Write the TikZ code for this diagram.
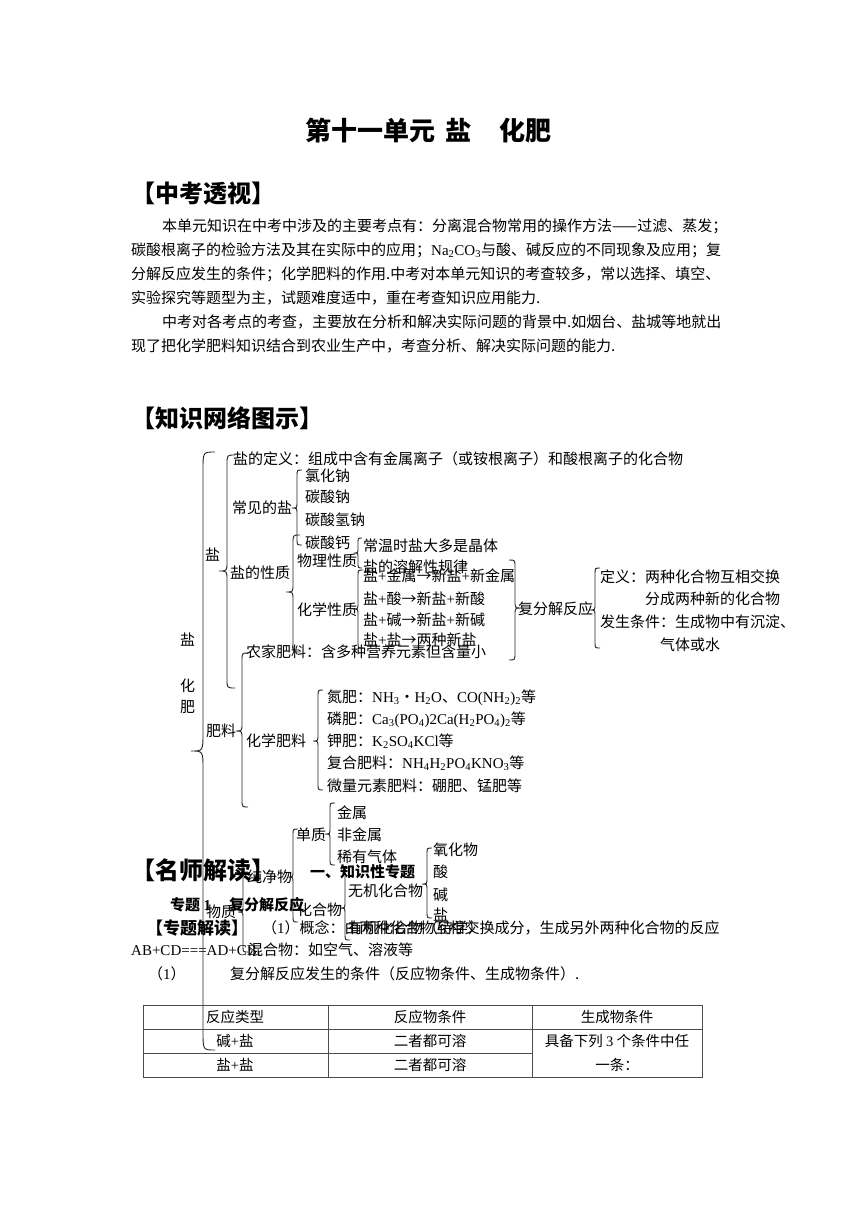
\documentclass[tikz,border=0pt]{standalone}
\usepackage{fontspec}
\setmainfont{Noto Sans CJK SC}
\newfontfamily\tm{Liberation Serif}
\newcommand\su[1]{\textsubscript{#1}}
\tikzset{
  txt/.style={anchor=base west, inner sep=0, font=\fontsize{15}{15}\selectfont},
  ctxt/.style={anchor=base, inner sep=0, font=\fontsize{14.5}{14.5}\selectfont},
  ptxt/.style={anchor=base west, inner sep=0, font=\fontsize{15}{15}\selectfont},
  htxt/.style={anchor=base west, inner sep=0, font=\bfseries\fontsize{24}{24}\selectfont},
  btxt/.style={anchor=base west, inner sep=0, font=\bfseries\fontsize{15}{15}\selectfont},
  br/.style={draw=black!85, line width=0.9pt},
  tbl/.style={draw=black!70, line width=0.8pt}
}
\newcommand\Tx[4]{\node[txt] (#1) at (#2,#3+5.7) {#4};}
\newcommand\Tc[4]{\node[ctxt] (#1) at (#2,#3+5.5) {#4};}
\newcommand\Tp[4]{\node[ptxt] (#1) at (#2,#3+5.7) {#4};}
\newcommand\Th[4]{\node[htxt] (#1) at (#2,#3+9.1) {#4};}
\newcommand\Tb[4]{\node[btxt] (#1) at (#2,#3+5.7) {#4};}
% left brace: x, top, cusp, bottom, rx, ry
\newcommand\lbr[6]{\draw[br] (#1+#5,#2) .. controls (#1,#2) .. (#1,#2+#6) -- (#1,#3-#6) .. controls (#1,#3) .. (#1-#5,#3) .. controls (#1,#3) .. (#1,#3+#6) -- (#1,#4-#6) .. controls (#1,#4) .. (#1+#5,#4);}
\newcommand\rbr[6]{\draw[br] (#1-#5,#2) .. controls (#1,#2) .. (#1,#2+#6) -- (#1,#3-#6) .. controls (#1,#3) .. (#1+#5,#3) .. controls (#1,#3) .. (#1,#3+#6) -- (#1,#4-#6) .. controls (#1,#4) .. (#1-#5,#4);}
\begin{document}
\begin{tikzpicture}[x=1pt,y=-1pt]
\useasboundingbox[fill=white] (0,0) rectangle (860,1216);
% title
\node[anchor=base west, inner sep=0, font=\bfseries\fontsize{26}{26}\selectfont] (title) at (305,140) {第十一单元\hspace{10pt}盐\hspace{28pt}化肥};
\Th{h1}{131}{193}{【中考透视】}
\Tp{p1}{162}{226}{本单元知识在中考中涉及的主要考点有：分离混合物常用的操作方法——过滤、蒸发；}
\Tp{p2}{131}{250}{碳酸根离子的检验方法及其在实际中的应用；{\tm Na\su{2}CO\su{3}}与酸、碱反应的不同现象及应用；复}
\Tp{p3}{131}{274}{分解反应发生的条件；化学肥料的作用.中考对本单元知识的考查较多，常以选择、填空、}
\Tp{p4}{131}{298}{实验探究等题型为主，试题难度适中，重在考查知识应用能力.}
\Tp{p5}{162}{322}{中考对各考点的考查，主要放在分析和解决实际问题的背景中.如烟台、盐城等地就出}
\Tp{p6}{131}{346}{现了把化学肥料知识结合到农业生产中，考查分析、解决实际问题的能力.}
\Th{h2}{131}{418}{【知识网络图示】}
% knowledge network
\Tx{v1}{180}{640}{盐}
\Tx{v2}{180}{686}{化}
\Tx{v3}{180}{707}{肥}
\Tx{yan}{205}{555}{盐}
\Tx{def}{233}{459}{盐的定义：组成中含有金属离子（或铵根离子）和酸根离子的化合物}
\Tx{cj}{232}{508}{常见的盐}
\Tx{c1}{305}{476}{氯化钠}
\Tx{c2}{305}{497}{碳酸钠}
\Tx{c3}{305}{520}{碳酸氢钠}
\Tx{c4}{305}{543}{碳酸钙}
\Tx{xz}{230}{573}{盐的性质}
\Tx{wl}{297}{561}{物理性质}
\Tx{hx}{297}{610}{化学性质}
\Tx{w1}{363}{546}{常温时盐大多是晶体}
\Tx{w2}{363}{567}{盐的溶解性规律}
\Tx{r1}{363}{576}{盐{\tm +}金属→新盐{\tm +}新金属}
\Tx{r2}{363}{599}{盐{\tm +}酸→新盐{\tm +}新酸}
\Tx{r3}{363}{620}{盐{\tm +}碱→新盐{\tm +}新碱}
\Tx{r4}{363}{640}{盐{\tm +}盐→两种新盐}
\Tx{ff}{518}{609}{复分解反应}
\Tx{f1}{600}{577}{定义：两种化合物互相交换}
\Tx{f2}{645}{599}{分成两种新的化合物}
\Tx{f3}{600}{622}{发生条件：生成物中有沉淀、}
\Tx{f4}{660}{645}{气体或水}
\Tx{nj}{246}{652}{农家肥料：含多种营养元素但含量小}
\Tx{fl}{206}{731}{肥料}
\Tx{hf}{246}{741}{化学肥料}
\Tx{k1}{327}{697}{氮肥：{\tm NH\su{3}}・{\tm H\su{2}O}、{\tm CO(NH\su{2})\su{2}}等}
\Tx{k2}{327}{719}{磷肥：{\tm Ca\su{3}(PO\su{4})2Ca(H\su{2}PO\su{4})\su{2}}等}
\Tx{k3}{327}{741}{钾肥：{\tm K\su{2}SO\su{4}KCl}等}
\Tx{k4}{327}{763}{复合肥料：{\tm NH\su{4}H\su{2}PO\su{4}KNO\su{3}}等}
\Tx{k5}{327}{786}{微量元素肥料：硼肥、锰肥等}
\Tx{m1}{337}{813}{金属}
\Tx{m2}{337}{835}{非金属}
\Tx{m3}{337}{857}{稀有气体}
\Tx{dz}{296}{835}{单质}
\Tx{cjw}{247}{877}{纯净物}
\Tx{wz}{206}{912}{物质}
\Tx{hhw}{297}{910}{化合物}
\Tx{wj}{348}{891}{无机化合物}
\Tx{yj}{348}{928}{有机化合物（待学）}
\Tx{o1}{433}{850}{氧化物}
\Tx{o2}{433}{872}{酸}
\Tx{o3}{433}{895}{碱}
\Tx{o4}{433}{915}{盐}
\Tx{hh}{248}{950}{混合物：如空气、溶液等}
% braces
\lbr{203}{452}{751}{1050}{12}{18}
\lbr{227}{455}{571}{688}{8}{9}
\lbr{297}{470}{508}{545}{5}{6}
\lbr{293}{535}{592}{652}{7}{8}
\lbr{358}{538}{553}{568}{4}{5}
\lbr{358}{570}{609}{648}{5}{6}
\rbr{515}{560}{608}{660}{6}{7}
\lbr{595}{568}{610}{648}{5}{6}
\lbr{242}{653}{731}{807}{6}{8}
\lbr{318}{690}{741}{790}{5}{7}
\lbr{330}{803}{834}{865}{5}{6}
\lbr{293}{829}{877}{922}{5}{6}
\lbr{345}{868}{908}{940}{5}{6}
\lbr{427}{848}{884}{918}{5}{6}
\lbr{243}{872}{912}{952}{5}{6}
% teacher section
\Th{h3}{131}{870}{【名师解读】}
\Tb{zs}{310}{872}{一、知识性专题}
\Tb{zt}{170}{905}{专题 {\tm 1}\hspace{18pt}复分解反应}
\node[anchor=base west, inner sep=0, font=\bfseries\fontsize{17}{17}\selectfont] (zj) at (146,934.4) {【专题解读】};
\Tp{gn}{262}{928}{（{\tm 1}）概念：由两种化合物互相交换成分，生成另外两种化合物的反应}
\node[anchor=base west, inner sep=0, font=\tm\fontsize{15}{15}\selectfont] (eq) at (131,955.7) {AB+CD===AD+CB.};
\Tp{c0}{148}{974}{（{\tm 1}）}
\Tp{cd}{230}{974}{复分解反应发生的条件（反应物条件、生成物条件）.}
% table
\draw[tbl] (143,1005) rectangle (702,1077);
\draw[tbl] (143,1029) -- (702,1029);
\draw[tbl] (143,1053) -- (532,1053);
\draw[tbl] (328,1005) -- (328,1077);
\draw[tbl] (532,1005) -- (532,1077);
\Tc{t11}{235}{1017}{反应类型}
\Tc{t12}{430}{1017}{反应物条件}
\Tc{t13}{617}{1017}{生成物条件}
\Tc{t21}{235}{1041}{碱{\tm +}盐}
\Tc{t22}{430}{1041}{二者都可溶}
\Tc{t23}{617}{1041}{具备下列 {\tm 3} 个条件中任}
\Tc{t31}{235}{1065}{盐{\tm +}盐}
\Tc{t32}{430}{1065}{二者都可溶}
\Tc{t33}{617}{1065}{一条：}
\end{tikzpicture}
\end{document}
